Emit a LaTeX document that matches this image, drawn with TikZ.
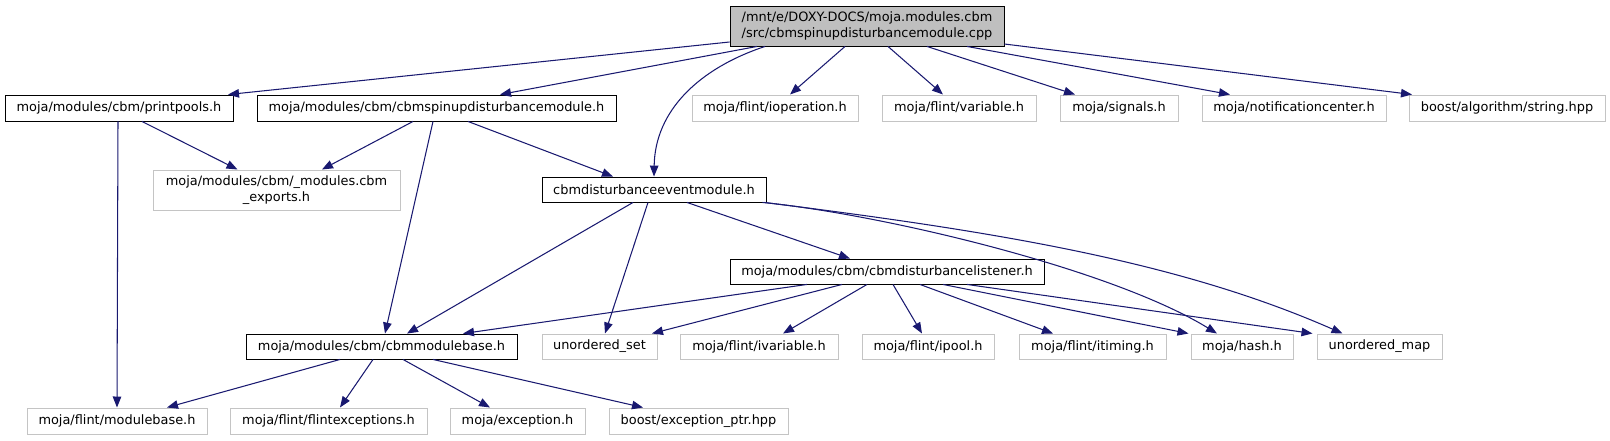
\documentclass[tikz,border=0pt]{standalone}
\usepackage{fontspec}
\setmainfont{DejaVu Sans}
\usetikzlibrary{arrows.meta,calc}
\definecolor{edgeblue}{HTML}{191970}
\definecolor{grayfill}{HTML}{BFBFBF}
\definecolor{grayline}{HTML}{C4C4C4}
\begin{document}
\begin{tikzpicture}[x=1pt,y=-1pt,
  every node/.style={font=\fontsize{12.9}{16}\selectfont, inner sep=0pt, align=center},
  blk/.style={draw=black, fill=white, line width=0.9pt, minimum height=26pt},
  ext/.style={draw=grayline, fill=white, line width=1pt, minimum height=26pt},
  rootbox/.style={draw=black, fill=grayfill, line width=0.9pt, minimum height=40pt},
  dep/.style={draw=edgeblue, line width=1.05pt, -{Triangle[length=11pt,width=8.5pt]}},
]
\useasboundingbox (0,0) rectangle (1610,440);

% nodes
\node[rootbox, minimum width=274pt] (root) at (867,26) {/mnt/e/DOXY-DOCS/moja.modules.cbm\\/src/cbmspinupdisturbancemodule.cpp};

\node[blk, minimum width=228pt] (pp) at (119,108) {moja/modules/cbm/printpools.h};
\node[blk, minimum width=359pt] (spin) at (436.5,108) {moja/modules/cbm/cbmspinupdisturbancemodule.h};
\node[ext, minimum width=166pt] (iop) at (775,108) {moja/flint/ioperation.h};
\node[ext, minimum width=154pt] (var) at (959,108) {moja/flint/variable.h};
\node[ext, minimum width=118pt] (sig) at (1119,108) {moja/signals.h};
\node[ext, minimum width=184pt] (notif) at (1294,108) {moja/notificationcenter.h};
\node[ext, minimum width=196pt] (bstr) at (1507,108) {boost/algorithm/string.hpp};

\node[ext, minimum width=247pt, minimum height=40pt] (exp) at (276.5,190) {moja/modules/cbm/\_modules.cbm\\\_exports.h};
\node[blk, minimum width=224pt, minimum height=25pt] (evt) at (654,189.5) {cbmdisturbanceeventmodule.h};

\node[blk, minimum width=314pt, minimum height=25pt] (lis) at (887,271.5) {moja/modules/cbm/cbmdisturbancelistener.h};

\node[blk, minimum width=271pt, minimum height=25pt] (cmb) at (381.5,346.5) {moja/modules/cbm/cbmmodulebase.h};
\node[ext, minimum width=115pt, minimum height=25pt] (uset) at (599.5,346.5) {unordered\_set};
\node[ext, minimum width=158pt, minimum height=25pt] (ivar) at (759,346.5) {moja/flint/ivariable.h};
\node[ext, minimum width=132pt, minimum height=25pt] (ipool) at (928,346.5) {moja/flint/ipool.h};
\node[ext, minimum width=147pt, minimum height=25pt] (itim) at (1092.5,346.5) {moja/flint/itiming.h};
\node[ext, minimum width=102pt, minimum height=25pt] (hash) at (1242,346.5) {moja/hash.h};
\node[ext, minimum width=125pt, minimum height=25pt] (umap) at (1379.5,346.5) {unordered\_map};

\node[ext, minimum width=180pt] (mb) at (117,421) {moja/flint/modulebase.h};
\node[ext, minimum width=197pt] (fex) at (328.5,421) {moja/flint/flintexceptions.h};
\node[ext, minimum width=135pt] (exc) at (517.5,421) {moja/exception.h};
\node[ext, minimum width=179pt] (eptr) at (698.5,421) {boost/exception\_ptr.hpp};

% edges from root
\draw[dep] ([yshift=-16pt]root.west) -- ([xshift=109pt]pp.north);
\draw[dep] ([xshift=-110pt]root.south) -- ([xshift=63.5pt]spin.north);
\draw[dep] ([xshift=-102pt]root.south) .. controls (700,68) and (655,110) .. (evt.north);
\draw[dep] ([xshift=-22pt]root.south) -- ([xshift=15pt]iop.north);
\draw[dep] ([xshift=21pt]root.south) -- ([xshift=-16pt]var.north);
\draw[dep] ([xshift=60pt]root.south) -- ([xshift=-44pt]sig.north);
\draw[dep] ([xshift=100pt]root.south) -- ([xshift=-64pt]notif.north);
\draw[dep] ([yshift=-18pt]root.east) -- ([xshift=-95pt]bstr.north);

% printpools
\draw[dep] ([xshift=23pt]pp.south) -- ([xshift=-39pt]exp.north);
\draw[dep] ([xshift=-1pt]pp.south) -- (mb.north);

% cbmspinupdisturbancemodule.h
\draw[dep] ([xshift=-23.5pt]spin.south) -- ([xshift=45.5pt]exp.north);
\draw[dep] ([xshift=-3.5pt]spin.south) -- ([xshift=3.5pt]cmb.north);
\draw[dep] ([xshift=31.5pt]spin.south) -- ([xshift=-41pt]evt.north);

% cbmdisturbanceeventmodule.h
\draw[dep] ([xshift=-21pt]evt.south) -- ([xshift=25.5pt]cmb.north);
\draw[dep] ([xshift=-6pt]evt.south) -- ([xshift=5.5pt]uset.north);
\draw[dep] ([xshift=33pt]evt.south) -- ([xshift=-37pt]lis.north);
\draw[dep] ([xshift=-4pt]evt.south east) .. controls (880,214) and (1110,268) .. ([xshift=-25pt]hash.north);
\draw[dep] ([xshift=-2pt]evt.south east) .. controls (1000,232) and (1180,262) .. ([xshift=-37pt]umap.north);

% listener
\draw[dep] ([xshift=-80pt]lis.south) -- ([xshift=81.5pt]cmb.north);
\draw[dep] ([xshift=-45pt]lis.south) -- ([xshift=52.5pt]uset.north);
\draw[dep] ([xshift=-20pt]lis.south) -- ([xshift=24pt]ivar.north);
\draw[dep] ([xshift=6pt]lis.south) -- ([xshift=-6pt]ipool.north);
\draw[dep] ([xshift=33pt]lis.south) -- ([xshift=-39.5pt]itim.north);
\draw[dep] ([xshift=56pt]lis.south) -- ([xshift=-2pt]hash.north west);
\draw[dep] ([xshift=80pt]lis.south) -- ([xshift=-4pt]umap.north west);

% cbmmodulebase
\draw[dep] ([xshift=-41.5pt]cmb.south) -- ([xshift=50pt]mb.north);
\draw[dep] ([xshift=-8.5pt]cmb.south) -- ([xshift=11.5pt]fex.north);
\draw[dep] ([xshift=21.5pt]cmb.south) -- ([xshift=-27.5pt]exc.north);
\draw[dep] ([xshift=51.5pt]cmb.south) -- ([xshift=-55.5pt]eptr.north);
\end{tikzpicture}
\end{document}
